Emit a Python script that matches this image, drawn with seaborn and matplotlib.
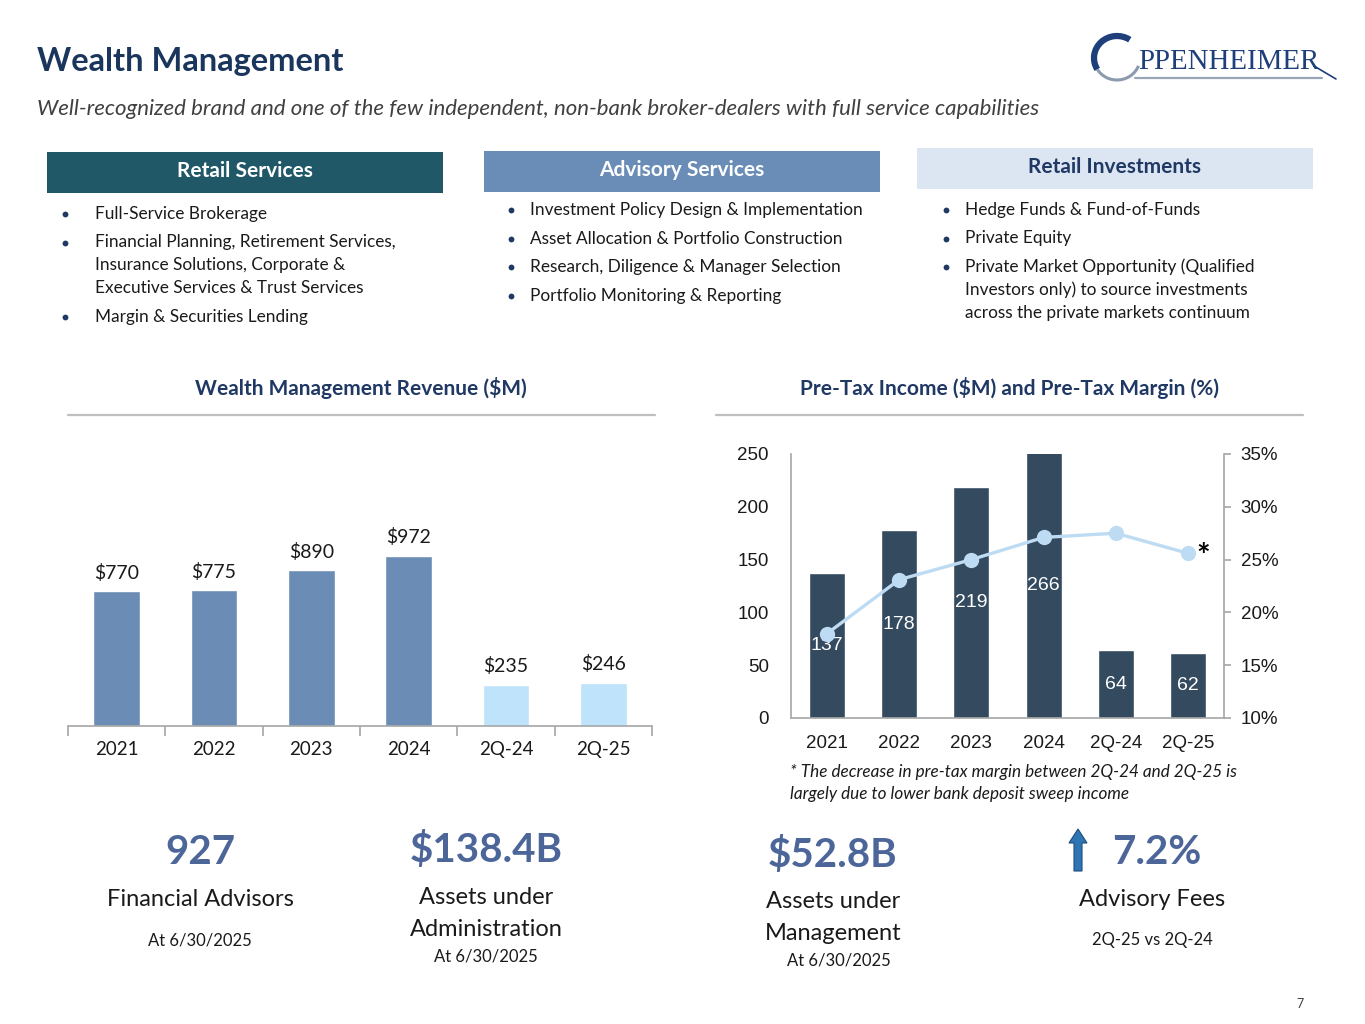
import numpy as np
import pandas as pd
import matplotlib
matplotlib.use("Agg")
import matplotlib.pyplot as plt
import matplotlib.patches as mpatches
from matplotlib.ticker import PercentFormatter
import seaborn as sns

# --- data ---
periods = ["2021", "2022", "2023", "2024", "2Q-24", "2Q-25"]
revenue = [770, 775, 890, 972, 235, 246]
pretax_income = [137, 178, 219, 266, 64, 62]
pretax_margin = [0.180, 0.231, 0.250, 0.271, 0.275, 0.256]

retail_services = [["Full-Service Brokerage"],
                   ["Financial Planning, Retirement Services,", "Insurance Solutions, Corporate &",
                    "Executive Services & Trust Services"],
                   ["Margin & Securities Lending"]]
advisory_services = [["Investment Policy Design & Implementation"],
                     ["Asset Allocation & Portfolio Construction"],
                     ["Research, Diligence & Manager Selection"],
                     ["Portfolio Monitoring & Reporting"]]
retail_investments = [["Hedge Funds & Fund-of-Funds"],
                      ["Private Equity"],
                      ["Private Market Opportunity (Qualified", "Investors only) to source investments",
                       "across the private markets continuum"]]

# colours
NAVY = "#1B365D"
FY_COLOR = "#6A8CB5"
Q_COLOR = "#BFE3FA"
PRETAX_COLOR = "#344A5F"
MARGIN_COLOR = "#BDDCF4"
STAT_COLOR = "#4D6699"
GRID_GRAY = "#A6A6A6"

sns.set_theme(style="white")
plt.rcParams["font.family"] = ["Lato", "DejaVu Sans"]

W, H = 1365, 1024
fig = plt.figure(figsize=(W / 100, H / 100), dpi=100)
fig.patch.set_facecolor("white")

# overlay axes in pixel units for slide decoration
bg = fig.add_axes([0, 0, 1, 1])
bg.set_xlim(0, W)
bg.set_ylim(H, 0)
bg.axis("off")

bg.text(37, 61, "Wealth Management", fontsize=23.5, fontweight="bold", color=NAVY, va="center")
bg.text(37, 109, "Well-recognized brand and one of the few independent, non-bank broker-dealers with full service capabilities",
        fontsize=16, style="italic", color="#404040", va="center")

# logo
bg.add_patch(mpatches.Arc((1117, 58), 46, 44, theta1=150, theta2=305, color="#1F3F7A", lw=4.5))
bg.add_patch(mpatches.Arc((1117, 58), 46, 44, theta1=20, theta2=150, color="#8C9AAE", lw=2.2))
bg.text(1138, 62, "PPENHEIMER", fontsize=20.8, color="#1F3F7A", va="center", family="Liberation Serif")
bg.plot([1135, 1322], [77.5, 77.5], color="#9AA6B8", lw=1.6)
bg.plot([1314, 1336], [66, 79], color="#1F3F7A", lw=1.2)

# service boxes
boxes = [((47, 152), "Retail Services", "#215868", "white", retail_services, 65, 95, 214),
         ((484, 151), "Advisory Services", "#6A8DB7", "white", advisory_services, 511, 530, 210),
         ((917, 148), "Retail Investments", "#DCE6F2", "#1F3864", retail_investments, 946, 965, 210)]
for (bx, by), title, fc, tc, items, bullet_x, text_x, y0 in boxes:
    bg.add_patch(mpatches.Rectangle((bx, by), 396, 41, facecolor=fc, edgecolor="none"))
    bg.text(bx + 198, by + 19, title, fontsize=15, fontweight="bold", color=tc, ha="center", va="center")
    y = y0
    for item in items:
        bg.plot([bullet_x], [y], marker="o", markersize=4.2, color="#1F3864", markeredgewidth=0)
        for k, line in enumerate(item):
            bg.text(text_x, y + 22.8 * k, line, fontsize=12.4, color="#1A1A1A", va="center")
        y += 28.5 + 22.8 * (len(item) - 1)

# chart headers
bg.text(361, 388, "Wealth Management Revenue ($M)", fontsize=15, fontweight="bold", color="#1F3864", ha="center", va="center")
bg.plot([68, 655], [415, 415], color="#BFBFBF", lw=1.6)
bg.text(1010, 388, "Pre-Tax Income ($M) and Pre-Tax Margin (%)", fontsize=15, fontweight="bold", color="#1F3864", ha="center", va="center")
bg.plot([716, 1303], [415, 415], color="#BFBFBF", lw=1.6)

# --- left chart: revenue ---
axL = fig.add_axes([68 / W, 1 - 726 / H, (652 - 68) / W, (726 - 440) / H])
rev_df = pd.DataFrame({"period": periods, "revenue": revenue})
palette = {p: (Q_COLOR if p.startswith("2Q") else FY_COLOR) for p in periods}
sns.barplot(data=rev_df, x="period", y="revenue", hue="period", palette=palette,
            width=0.48, saturation=1, legend=False, ax=axL)
axL.set_xlim(-0.5, len(periods) - 0.5)
axL.set_ylim(0, 286 / 0.175)
axL.patch.set_alpha(0)
for s in ["left", "top", "right"]:
    axL.spines[s].set_visible(False)
axL.spines["bottom"].set_color(GRID_GRAY)
axL.spines["bottom"].set_linewidth(1.2)
axL.set_yticks([])
axL.set_xticks(np.arange(-0.5, len(periods), 1), minor=True)
axL.tick_params(axis="x", which="minor", length=7, width=1.2, color=GRID_GRAY, direction="out", bottom=True)
axL.tick_params(axis="x", which="major", length=0, pad=11, labelsize=13.5, labelcolor="#1A1A1A")
axL.set_xlabel("")
axL.set_ylabel("")
for i, v in enumerate(revenue):
    axL.annotate(f"${v}", (i, v), xytext=(0, 7), textcoords="offset points",
                 ha="center", va="bottom", fontsize=14, color="#1A1A1A")

# --- right chart: pre-tax income and margin ---
arial = ["Liberation Sans", "DejaVu Sans"]
axR = fig.add_axes([791 / W, 1 - 718 / H, (1224 - 791) / W, (718 - 454) / H])
sns.barplot(x=periods, y=pretax_income, color=PRETAX_COLOR, width=0.5, saturation=1, ax=axR)
ymax = 250
axR.set_ylim(0, ymax)
axR.set_yticks(range(0, 251, 50))
axR.patch.set_alpha(0)
for s in ["top", "right"]:
    axR.spines[s].set_visible(False)
for s in ["left", "bottom"]:
    axR.spines[s].set_color(GRID_GRAY)
    axR.spines[s].set_linewidth(1.2)
axR.tick_params(axis="y", length=0, pad=16, labelsize=13.5)
axR.tick_params(axis="x", length=0, pad=12, labelsize=13.5)
for lab in axR.get_xticklabels() + axR.get_yticklabels():
    lab.set_family(arial)
    lab.set_color("#1A1A1A")
for i, v in enumerate(pretax_income):
    axR.text(i, min(v, ymax) / 2, str(v), color="white", ha="center", va="center",
             fontsize=14, family=arial)

axR2 = axR.twinx()
sns.lineplot(x=np.arange(len(periods)), y=pretax_margin, ax=axR2, color=MARGIN_COLOR,
             marker="o", markersize=11, markeredgewidth=0, linewidth=2.4)
axR2.set_ylim(0.10, 0.35)
axR2.set_yticks(np.arange(0.10, 0.351, 0.05))
axR2.yaxis.set_major_formatter(PercentFormatter(1.0, decimals=0))
for s in ["top", "left", "bottom"]:
    axR2.spines[s].set_visible(False)
axR2.spines["right"].set_color(GRID_GRAY)
axR2.spines["right"].set_linewidth(1.2)
axR2.tick_params(axis="y", length=5, width=1.2, color=GRID_GRAY, pad=7, labelsize=13.5, right=True)
for lab in axR2.get_yticklabels():
    lab.set_family(arial)
    lab.set_color("#1A1A1A")
axR2.grid(False)
axR.grid(False)
axR.set_xlim(-0.5, len(periods) - 0.5)
axR2.annotate("*", (len(periods) - 1, pretax_margin[-1]), xytext=(6, -3), textcoords="offset points",
              fontsize=23, fontweight="bold", color="black", va="center", ha="left")

bg.text(790, 772, "* The decrease in pre-tax margin between 2Q-24 and 2Q-25 is", fontsize=12.3,
        style="italic", color="#1A1A1A", va="center")
bg.text(790, 794, "largely due to lower bank deposit sweep income", fontsize=12.3,
        style="italic", color="#1A1A1A", va="center")

# --- bottom stats ---
stats = [(200, "927", ["Financial Advisors"], "At 6/30/2025", 853, 940),
         (486, "$138.4B", ["Assets under", "Administration"], "At 6/30/2025", 850, 956),
         (833, "$52.8B", ["Assets under", "Management"], "At 6/30/2025", 855, 960),
         (1157, "7.2%", ["Advisory Fees"], "2Q-25 vs 2Q-24", 853, 940)]
for cx, big, labels, note, y_big, y_note in stats:
    bg.text(cx, y_big, big, fontsize=29, fontweight="bold", color=STAT_COLOR, ha="center", va="center")
    for k, lab in enumerate(labels):
        x_lab = cx - 5 if big == "7.2%" else cx
        bg.text(x_lab, y_big + 47 + 32 * k, lab, fontsize=17, color="#1A1A1A", ha="center", va="center")
    x_note = cx + 6 if big == "$52.8B" else cx - 5 if big == "7.2%" else cx
    bg.text(x_note, y_note, note, fontsize=12, color="#1A1A1A", ha="center", va="center")

bg.add_patch(mpatches.FancyArrow(1078, 871, 0, -42, width=8, head_width=18, head_length=14,
                                 length_includes_head=True, facecolor="#2E75B6", edgecolor="#1F4E79", lw=0.8))

bg.text(1300, 1004, "7", fontsize=9, color="#404040", ha="center", va="center")

fig.savefig("out.png", dpi=100, facecolor="white")
